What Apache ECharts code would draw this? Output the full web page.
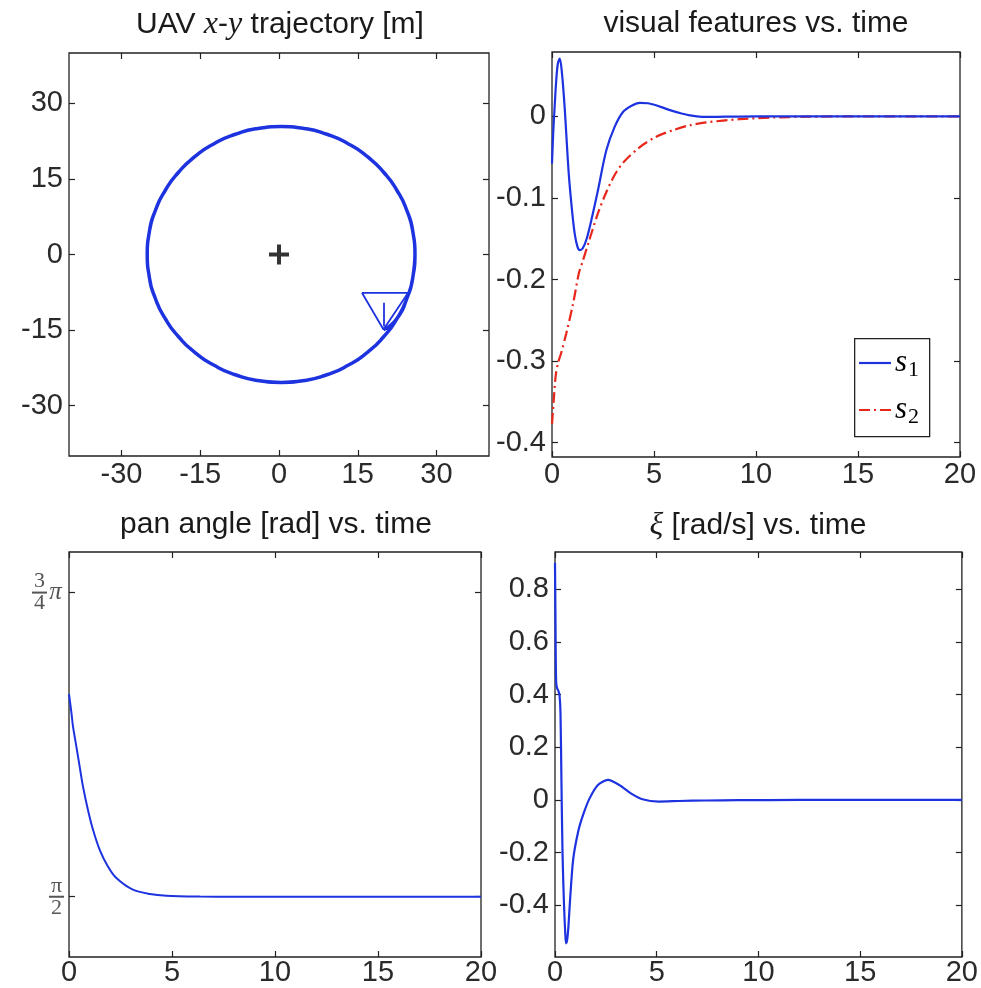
<!DOCTYPE html>
<html><head><meta charset="utf-8">
<script src="https://cdn.jsdelivr.net/npm/echarts@6/dist/echarts.min.js"></script>
<style>html,body{margin:0;padding:0;background:#fff}#c{width:981px;height:988px}</style>
</head><body><div id="c"></div>
<script>
// ---------- data ----------
// UAV x-y trajectory [m] (starts at the UAV, then circles the target)
const trajX = [19.9, 22.48, 24.36, 25.51, 25.9, 25.51, 24.36, 22.48, 19.93, 16.79, 13.15, 9.12, 4.83, 0.4, -4.03, -8.32, -12.35, -15.99, -19.13, -21.68, -23.56, -24.71, -25.1, -24.71, -23.56, -21.68, -19.13, -15.99, -12.35, -8.32, -4.03, 0.4, 4.83, 9.12, 13.15, 16.79, 19.93, 22.48, 24.36, 25.51, 25.9];
const trajY = [-14.9, -12.7, -8.69, -4.41, 0, 4.41, 8.69, 12.7, 16.33, 19.46, 22.0, 23.87, 25.01, 25.4, 25.01, 23.87, 22.0, 19.46, 16.33, 12.7, 8.69, 4.41, 0, -4.41, -8.69, -12.7, -16.33, -19.46, -22.0, -23.87, -25.01, -25.4, -25.01, -23.87, -22.0, -19.46, -16.33, -12.7, -8.69, -4.41, 0];
const uavIconX = [15.8, 24.6, 19.9, 15.8];
const uavIconY = [-7.6, -7.6, -14.9, -7.6];
const uavStemX = [20.0, 20.0];
const uavStemY = [-9.6, -14.3];
const targetX = [0];
const targetY = [0];
const xyTicks = [-30, -15, 0, 15, 30];

// visual features vs. time
const s1T = [0, 0.06, 0.13, 0.21, 0.29, 0.38, 0.48, 0.62, 0.82, 1.0, 1.12, 1.25, 1.36, 1.5, 1.7, 1.95, 2.25, 2.66, 3.07, 3.48, 3.9, 4.3, 4.7, 5.1, 5.5, 5.9, 6.35, 6.75, 7.5, 8.5, 10, 12, 15, 20];
const s1 = [-0.058, -0.02, 0.012, 0.045, 0.065, 0.0707, 0.055, 0.011, -0.07, -0.12, -0.145, -0.16, -0.164, -0.162, -0.15, -0.125, -0.091, -0.042, -0.013, 0.0053, 0.013, 0.0164, 0.016, 0.0135, 0.01, 0.0066, 0.0035, 0.0012, -0.0008, -0.0005, -0.0002, 0, 0, 0];
const s2T = [0, 0.08, 0.18, 0.3, 0.45, 0.7, 1.03, 1.32, 1.5, 1.85, 2.25, 2.66, 3.07, 3.48, 4.29, 5.11, 5.93, 6.74, 7.56, 9.2, 10.8, 12.5, 15, 20];
const s2 = [-0.377, -0.35, -0.318, -0.302, -0.29, -0.266, -0.23, -0.192, -0.178, -0.15, -0.119, -0.093, -0.072, -0.057, -0.038, -0.025, -0.017, -0.011, -0.0075, -0.0035, -0.0015, -0.0005, 0, 0];
const featTicks = [-0.4, -0.3, -0.2, -0.1, 0];
const timeTicks = [0, 5, 10, 15, 20];
const legendNames = ['s1', 's2'];
const legendSubs = ['1', '2'];

// pan angle [rad] vs. time
const panT = [0, 0.12, 0.19, 0.36, 0.52, 0.68, 0.92, 1.17, 1.49, 1.89, 2.3, 3.1, 3.92, 4.73, 6.35, 8, 12, 20];
const panAngle = [2.094, 2.045, 2.012, 1.958, 1.906, 1.855, 1.795, 1.743, 1.692, 1.649, 1.619, 1.589, 1.578, 1.5734, 1.5712, 1.5708, 1.5708, 1.5708];
const panTickValues = [1.5708, 2.3562];
const panTickLabels = ['{n|π}\n{bar| }\n{n|2}', '{n|3}{sp| }\n{bar| }{pi|π}\n{n|4}{sp| }'];

// xi [rad/s] vs. time
const xiT = [0, 0.02, 0.04, 0.06, 0.1, 0.16, 0.22, 0.27, 0.32, 0.37, 0.44, 0.5, 0.54, 0.6, 0.66, 0.73, 0.89, 1.14, 1.38, 1.7, 2.11, 2.6, 3.16, 3.73, 4.3, 5.1, 6.1, 7.4, 9, 12, 20];
const xi = [0.9, 0.72, 0.52, 0.445, 0.425, 0.415, 0.4, 0.33, 0.05, -0.202, -0.392, -0.5, -0.544, -0.53, -0.48, -0.392, -0.228, -0.12, -0.057, 0.006, 0.057, 0.076, 0.057, 0.025, 0.0025, -0.006, -0.004, -0.002, -0.001, 0, 0];
const xiTicks = [-0.4, -0.2, 0, 0.2, 0.4, 0.6, 0.8];

// ---------- chart ----------
const pair = (xs, ys) => xs.map((x, i) => [x, ys[i]]);
const BLUE = '#1e33e0', RED = '#e8271c';
const SANS = '"Liberation Sans", Arial, Helvetica, sans-serif';
const SERIF = '"Liberation Serif", "DejaVu Serif", serif';
const FS = 29, TFS = 30;
const LBL = '#2a2a2a';
const DASHDOT = [11, 4, 2, 4];

const grids = [
  {left: 69, top: 53, width: 420, height: 403},
  {left: 552, top: 52, width: 408, height: 405},
  {left: 69, top: 552, width: 412, height: 405},
  {left: 555, top: 552, width: 411, height: 405}
].map(g => Object.assign(g, {show: true, borderColor: '#222', borderWidth: 1.3, backgroundColor: 'transparent'}));

const ranges = [
  {x: [-40, 40], y: [-40, 40], xt: xyTicks, yt: xyTicks},
  {x: [0, 20], y: [-0.4175, 0.0788], xt: timeTicks, yt: featTicks},
  {x: [0, 20], y: [1.4152, 2.461], xt: timeTicks, yt: panTickValues},
  {x: [0, 20], y: [-0.596, 0.941], xt: timeTicks, yt: xiTicks}
];
const xMargins = [4, 3, 1, 1];

function tick(vals) { return {show: true, inside: true, length: 6, customValues: vals, lineStyle: {color: '#222', width: 1.2}}; }
const noLine = {show: false, onZero: false};

const xAxis = [], yAxis = [];
ranges.forEach((r, g) => {
  xAxis.push({type: 'value', gridIndex: g, min: r.x[0], max: r.x[1], position: 'bottom',
    axisLine: noLine, splitLine: {show: false}, axisTick: tick(r.xt),
    axisLabel: {show: true, customValues: r.xt, margin: xMargins[g], color: LBL, fontFamily: SANS, fontSize: FS,
      formatter: v => String(v)}});
});
ranges.forEach((r, g) => {
  xAxis.push({type: 'value', gridIndex: g, min: r.x[0], max: r.x[1], position: 'top',
    axisLine: noLine, splitLine: {show: false}, axisTick: tick(r.xt), axisLabel: {show: false}});
});
ranges.forEach((r, g) => {
  const ax = {type: 'value', gridIndex: g, min: r.y[0], max: r.y[1], position: 'left',
    axisLine: noLine, splitLine: {show: false}, axisTick: tick(r.yt),
    axisLabel: {show: true, customValues: r.yt, margin: 6, color: LBL, fontFamily: SANS, fontSize: FS,
      formatter: v => String(Math.round(v * 1000) / 1000)}};
  if (g === 2) {
    ax.axisLabel = {show: true, customValues: r.yt, margin: 5, color: '#555', align: 'right',
      formatter: v => {
        let k = 0; panTickValues.forEach((pv, i) => { if (Math.abs(pv - v) < Math.abs(panTickValues[k] - v)) k = i; });
        return panTickLabels[k];
      },
      rich: {
        n: {fontFamily: SERIF, fontSize: 22, color: '#555', width: 15, align: 'center', lineHeight: 18},
        sp: {fontSize: 10, width: 17, lineHeight: 18},
        bar: {fontSize: 2, width: 15, height: 2, lineHeight: 4, backgroundColor: '#555'},
        pi: {fontFamily: SERIF, fontStyle: 'italic', fontSize: 25, color: '#555', width: 17, align: 'left', lineHeight: 4}
      }};
  }
  yAxis.push(ax);
});
ranges.forEach((r, g) => {
  yAxis.push({type: 'value', gridIndex: g, min: r.y[0], max: r.y[1], position: 'right',
    axisLine: noLine, splitLine: {show: false}, axisTick: tick(r.yt), axisLabel: {show: false}});
});

const lineBase = {type: 'line', showSymbol: false, symbol: 'none', silent: true, animation: false};

const series = [
  Object.assign({}, lineBase, {name: 'trajectory', xAxisIndex: 0, yAxisIndex: 0, smooth: 0.6,
    data: pair(trajX, trajY), lineStyle: {color: BLUE, width: 3.5}}),
  Object.assign({}, lineBase, {name: 'uav', xAxisIndex: 0, yAxisIndex: 0,
    data: pair(uavIconX, uavIconY), lineStyle: {color: BLUE, width: 1.8}}),
  Object.assign({}, lineBase, {name: 'uavStem', xAxisIndex: 0, yAxisIndex: 0,
    data: pair(uavStemX, uavStemY), lineStyle: {color: BLUE, width: 1.8}}),
  {type: 'scatter', name: 'target', xAxisIndex: 0, yAxisIndex: 0, silent: true, animation: false,
    data: pair(targetX, targetY), symbol: 'path://M4,0h2v4h4v2h-4v4h-2v-4h-4v-2h4z', symbolSize: 20,
    itemStyle: {color: '#000'}},
  Object.assign({}, lineBase, {name: legendNames[1], xAxisIndex: 1, yAxisIndex: 1, smooth: 0.3,
    data: pair(s2T, s2), lineStyle: {color: RED, width: 2.2, type: DASHDOT}}),
  Object.assign({}, lineBase, {name: legendNames[0], xAxisIndex: 1, yAxisIndex: 1, smooth: 0.3,
    data: pair(s1T, s1), lineStyle: {color: BLUE, width: 2.2}}),
  Object.assign({}, lineBase, {name: 'pan', xAxisIndex: 2, yAxisIndex: 2, smooth: 0.3,
    data: pair(panT, panAngle), lineStyle: {color: BLUE, width: 2}}),
  Object.assign({}, lineBase, {name: 'xi', xAxisIndex: 3, yAxisIndex: 3, smooth: 0.25,
    data: pair(xiT, xi), lineStyle: {color: BLUE, width: 2.2}})
];

const titleRich = {
  n: {fontFamily: SANS, fontSize: TFS, color: '#1a1a1a'},
  m: {fontFamily: SERIF, fontStyle: 'italic', fontSize: TFS + 2, color: '#1a1a1a'}
};
const mkTitle = (text, cx, top) => ({text, left: cx, top, textAlign: 'center', padding: 0,
  textStyle: {fontFamily: SANS, fontSize: TFS, fontWeight: 'normal', color: '#1a1a1a', rich: titleRich}});

// legend box (s1 / s2) drawn as graphic
const legRich = {
  s: {fontFamily: SERIF, fontStyle: 'italic', fontSize: 31, color: '#444', lineHeight: 36},
  b: {fontFamily: SERIF, fontSize: 22, color: '#444', lineHeight: 36, verticalAlign: 'bottom', padding: [0, 0, 0, 1]}
};
const graphic = [
  {type: 'rect', left: 854, top: 338, z: 100, shape: {width: 75, height: 98},
    style: {fill: '#fff', stroke: '#222', lineWidth: 1.3}},
  {type: 'line', z: 101, shape: {x1: 859, y1: 363, x2: 891, y2: 363}, style: {stroke: BLUE, lineWidth: 2.2}},
  {type: 'line', z: 101, shape: {x1: 859, y1: 410, x2: 891, y2: 410}, style: {stroke: RED, lineWidth: 2.2, lineDash: DASHDOT}},
  {type: 'text', z: 101, x: 895, y: 363, style: {text: '{s|s}{b|' + legendSubs[0] + '}', rich: legRich, verticalAlign: 'middle'}},
  {type: 'text', z: 101, x: 895, y: 410, style: {text: '{s|s}{b|' + legendSubs[1] + '}', rich: legRich, verticalAlign: 'middle'}}
];

const option = {
  backgroundColor: '#fff',
  animation: false,
  title: [
    mkTitle('{n|UAV }{m|x}{n|-}{m|y}{n| trajectory [m]}', 280, 9),
    mkTitle('{n|visual features vs. time}', 756, 9),
    mkTitle('{n|pan angle [rad] vs. time}', 276, 510),
    mkTitle('{m|ξ}{n| [rad/s] vs. time}', 758, 510)
  ],
  grid: grids,
  xAxis, yAxis, series, graphic
};

const chart = echarts.init(document.getElementById('c'), null, {renderer: 'canvas'});
chart.setOption(option);
</script>
</body></html>
